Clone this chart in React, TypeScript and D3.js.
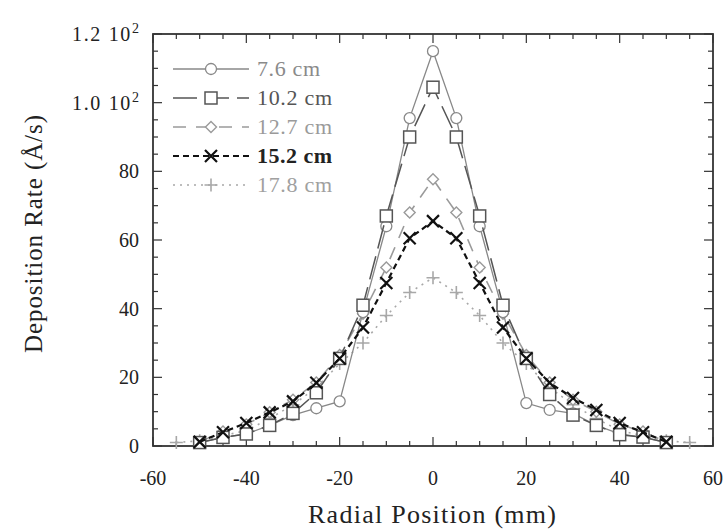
import React from "react";
import * as d3 from "d3";

const positions = [-50, -45, -40, -35, -30, -25, -20, -15, -10, -5, 0, 5, 10, 15, 20, 25, 30, 35, 40, 45, 50];
const positionsWide = [-55, -50, -45, -40, -35, -30, -25, -20, -15, -10, -5, 0, 5, 10, 15, 20, 25, 30, 35, 40, 45, 50, 55];

const rate76 = [1, 2.5, 3.5, 6, 9, 11, 13, 39, 64, 95.5, 115, 95.5, 64, 39, 12.5, 10.5, 9.5, 6, 3.5, 2.5, 1];
const rate102 = [1, 2.5, 3.5, 6, 9.5, 15.5, 25.5, 41, 67, 90, 104.5, 90, 67, 41, 25.5, 15, 9, 6, 3.3, 2.6, 1];
const rate127 = [1.2, 4.2, 6.3, 9.8, 13.5, 18.5, 26.5, 38.5, 52, 68, 77.7, 68, 52, 38.5, 26.5, 18.5, 13.5, 10, 6.3, 4.2, 1.2];
const rate152 = [1.2, 4, 6.7, 9.8, 13, 18.4, 25.5, 34.5, 47.5, 60.5, 65.5, 60.5, 47.5, 34.5, 25.5, 18.4, 14, 10.5, 6.7, 4, 1.2];
const rate178 = [1, 1.5, 3, 4.5, 8, 12, 17, 24, 30, 38, 44.7, 49, 44.7, 38, 30, 24, 17, 12, 8, 4.5, 3, 1.5, 1];

const legendLabels = ["7.6 cm", "10.2 cm", "12.7 cm", "15.2 cm", "17.8 cm"];
const xTickLabels = [-60, -40, -20, 0, 20, 40, 60];
const yTickValues = [0, 20, 40, 60, 80, 100, 120];

type Series = {
  label: string;
  xs: number[];
  ys: number[];
  color: string;
  textColor: string;
  dash: string;
  width: number;
  marker: "circle" | "square" | "diamond" | "x" | "plus";
};

const series: Series[] = [
  { label: legendLabels[4], xs: positionsWide, ys: rate178, color: "#a8a8a8", textColor: "#a0a0a0", dash: "2,5", width: 1.6, marker: "plus" },
  { label: legendLabels[2], xs: positions, ys: rate127, color: "#9a9a9a", textColor: "#9a9a9a", dash: "13,10", width: 1.6, marker: "diamond" },
  { label: legendLabels[0], xs: positions, ys: rate76, color: "#888", textColor: "#8a8a8a", dash: "none", width: 1.3, marker: "circle" },
  { label: legendLabels[1], xs: positions, ys: rate102, color: "#555", textColor: "#555", dash: "24,8", width: 1.5, marker: "square" },
  { label: legendLabels[3], xs: positions, ys: rate152, color: "#111", textColor: "#222", dash: "6,4", width: 2.2, marker: "x" },
];

const W = 724;
const H = 531;
const left = 153, right = 713, top = 34, bottom = 446;

function Marker({ kind, x, y, color }: { kind: Series["marker"]; x: number; y: number; color: string }) {
  switch (kind) {
    case "circle":
      return <circle cx={x} cy={y} r={5.5} fill="white" stroke={color} strokeWidth={1.3} />;
    case "square":
      return <rect x={x - 6} y={y - 6} width={12} height={12} fill="white" stroke={color} strokeWidth={1.5} />;
    case "diamond":
      return <path d={`M${x},${y - 5.5}L${x + 5.5},${y}L${x},${y + 5.5}L${x - 5.5},${y}Z`} fill="white" stroke={color} strokeWidth={1.4} />;
    case "x":
      return <path d={`M${x - 6},${y - 6}L${x + 6},${y + 6}M${x - 6},${y + 6}L${x + 6},${y - 6}`} stroke={color} strokeWidth={2.2} />;
    case "plus":
      return <path d={`M${x - 6.5},${y}L${x + 6.5},${y}M${x},${y - 6.5}L${x},${y + 6.5}`} stroke={color} strokeWidth={1.6} />;
  }
}

export default function App() {
  const x = d3.scaleLinear().domain([-60, 60]).range([left, right]);
  const y = d3.scaleLinear().domain([0, 120]).range([bottom, top]);
  const line = d3.line<[number, number]>().x((d) => x(d[0])).y((d) => y(d[1]));

  const xMinor = d3.range(-60, 60.1, 5);
  const yMinor = d3.range(0, 120.1, 5);
  const font = "'Liberation Serif', 'DejaVu Serif', serif";

  const legendOrder = [2, 3, 1, 4, 0];
  return (
    <svg width={W} height={H} style={{ position: "absolute", left: 0, top: 0, background: "white" }} fontFamily={font}>
      <rect x={0} y={0} width={W} height={H} fill="white" />
      <g stroke="#333" strokeWidth={1.2}>
        {xMinor.map((v) => {
          const len = v % 20 === 0 ? 9 : 5;
          return (
            <g key={"x" + v}>
              <line x1={x(v)} x2={x(v)} y1={bottom} y2={bottom - len} />
              <line x1={x(v)} x2={x(v)} y1={top} y2={top + len} />
            </g>
          );
        })}
        {yMinor.map((v) => {
          const len = v % 20 === 0 ? 9 : 5;
          return (
            <g key={"y" + v}>
              <line x1={left} x2={left + len} y1={y(v)} y2={y(v)} />
              <line x1={right} x2={right - len} y1={y(v)} y2={y(v)} />
            </g>
          );
        })}
      </g>
      <rect x={left} y={top} width={right - left} height={bottom - top} fill="none" stroke="#333" strokeWidth={1.8} />
      <g fontSize={20} fill="#222">
        {xTickLabels.map((v) => (
          <text key={v} x={x(v)} y={485} textAnchor="middle">{v}</text>
        ))}
        {yTickValues.map((v) => (
          v >= 100 ? (
            <text key={v} x={72} y={y(v) + 7} textLength={67} lengthAdjust="spacing">
              {(v / 100).toFixed(1)} 10<tspan dy={-8} fontSize={14}>2</tspan>
            </text>
          ) : (
            <text key={v} x={139} y={y(v) + 7} textAnchor="end">{v}</text>
          )
        ))}
      </g>
      <text x={432} y={523} textAnchor="middle" fontSize={26} fill="#222" textLength={248} lengthAdjust="spacing">Radial Position (mm)</text>
      <text transform={`translate(42,234) rotate(-90)`} textAnchor="middle" fontSize={25} fill="#222" textLength={238} lengthAdjust="spacing">Deposition Rate (Å/s)</text>
      {series.map((s) => {
        const pts = s.xs.map((v, i) => [v, s.ys[i]] as [number, number]);
        return (
          <g key={s.label}>
            <path d={line(pts) || ""} fill="none" stroke={s.color} strokeWidth={s.width} strokeDasharray={s.dash} />
            {pts.map((p, i) => (
              <Marker key={i} kind={s.marker} x={x(p[0])} y={y(p[1])} color={s.color} />
            ))}
          </g>
        );
      })}
      {legendOrder.map((si, row) => {
        const s = series[si];
        const ly = 69 + row * 29;
        return (
          <g key={"lg" + row}>
            <line x1={173} x2={249} y1={ly} y2={ly} stroke={s.color} strokeWidth={s.width} strokeDasharray={s.dash} />
            <Marker kind={s.marker} x={211} y={ly} color={s.color} />
            <text x={257} y={ly + 7} fontSize={22} fill={s.textColor} fontWeight={si === 4 ? "bold" : "normal"} textLength={row === 0 ? 63 : 75} lengthAdjust="spacing">{s.label}</text>
          </g>
        );
      })}
    </svg>
  );
}
